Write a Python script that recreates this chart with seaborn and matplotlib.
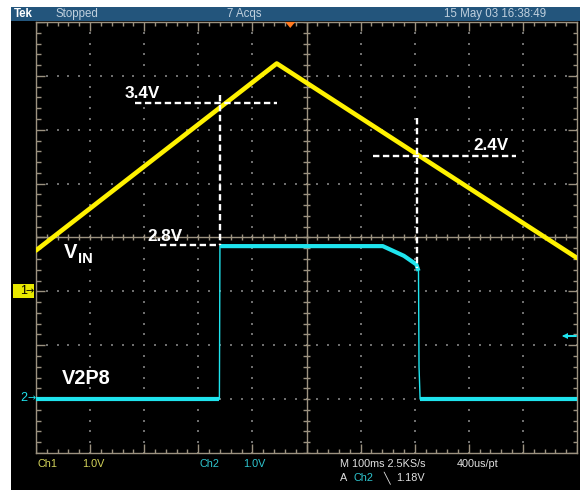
import numpy as np
import matplotlib
matplotlib.use("Agg")
import matplotlib.pyplot as plt
from matplotlib.patches import Rectangle, Polygon
import seaborn as sns

# ---------------- data (time in ms, voltage in V) ----------------
ch1_t = [0, 445, 1000]
ch1_v = [0.76, 4.23, 0.62]

ch2_t = [0, 339, 340, 641, 680, 703, 707, 708, 710, 1000]
ch2_v = [0.0, 0.0, 2.84, 2.84, 2.66, 2.50, 2.38, 0.60, 0.0, 0.0]

ch1_offset_div = -1.0   # ground marker "1"
ch2_offset_div = -3.0   # ground marker "2"
volts_per_div = 1.0

# annotation dashed lines (t0, t1, level) and labels
h_lines_ch1 = [(183, 445, 3.50), (623, 887, 2.51)]
h_lines_ch2 = [(229, 340, 2.86)]
v_lines = [(340, 2.64, -0.14), (704, 2.22, -0.57)]   # (t, div_top, div_bottom)
labels = ["3.4V", "2.8V", "2.4V"]
label_pos = [(142, 93), (165, 236), (491, 145)]       # pixel centres

header_texts = ["Tek", "Stopped", "7 Acqs", "15 May 03 16:38:49"]
footer_texts = ["Ch1", "1.0V", "Ch2", "1.0V", "M 100ms 2.5KS/s", "400us/pt"]
trigger_text = ["A", "Ch2", "\u2572", "1.18V"]
trigger_level = 1.18
trigger_pos_t = 470

# ---------------- style ----------------
sns.set_theme(style="dark")
plt.rcParams['font.family'] = ['Liberation Sans', 'DejaVu Sans']

W, H = 580, 490
fig = plt.figure(figsize=(W / 100, H / 100), dpi=100, facecolor="white")

def fx(x):
    return x / W

def fy(y):
    return 1 - y / H

# black screen and header bar
fig.patches.append(Rectangle((fx(11), 0), fx(569), 1 - 21 / H, transform=fig.transFigure,
                             facecolor="black", edgecolor="none", zorder=-10))
fig.patches.append(Rectangle((fx(11), fy(21)), fx(569), 14 / H, transform=fig.transFigure,
                             facecolor="#23557c", edgecolor="none", zorder=-10))

gx0, gx1, gy0, gy1 = 36, 577, 22, 453
ax = fig.add_axes([fx(gx0), fy(gy1), fx(gx1 - gx0), (gy1 - gy0) / H])
ax.set_zorder(1)
ax.set_facecolor("black")
ax.set_xlim(0, 1000)
ax.set_ylim(-4, 4)
ax.set_xticks([])
ax.set_yticks([])
grat = "#9c9280"
for s in ax.spines.values():
    s.set_color(grat)
    s.set_linewidth(1.0)
    s.set_visible(True)

px_x = 1000 / (gx1 - gx0)
px_y = 8 / (gy1 - gy0)

# dotted graticule
dot_x, dot_y = [], []
for k in range(1, 10):
    if k == 5:
        continue
    for j in range(0, 41):
        dot_x.append(k * 100)
        dot_y.append(-4 + j * 0.2)
for k in range(1, 8):
    if k == 4:
        continue
    for j in range(0, 51):
        dot_x.append(j * 20)
        dot_y.append(-4 + k)
ax.scatter(dot_x, dot_y, s=1.1, marker="s", color="#6e6e6e", linewidths=0, zorder=1)

# centre crosshair with minor ticks
ax.axhline(0, color=grat, lw=1.0, zorder=1)
ax.axvline(500, color=grat, lw=1.0, zorder=1)
mt = np.arange(0, 1001, 20)
ax.vlines(mt, -3 * px_y, 3 * px_y, color=grat, lw=1.0, zorder=1)
mv = np.arange(-4, 4.001, 0.2)
ax.hlines(mv, 500 - 3.5 * px_x, 500 + 3.5 * px_x, color=grat, lw=1.0, zorder=1)

# border ticks
for t in mt:
    L = 9 if (t % 100 == 0) else 4.5
    ax.vlines(t, -4, -4 + L * px_y, color=grat, lw=1.0, zorder=1)
    ax.vlines(t, 4 - L * px_y, 4, color=grat, lw=1.0, zorder=1)
for v in mv:
    L = 9 if abs(v - round(v)) < 1e-6 else 4.5
    ax.hlines(v, 0, L * px_x, color=grat, lw=1.0, zorder=1)
    ax.hlines(v, 1000 - L * px_x, 1000, color=grat, lw=1.0, zorder=1)

# ---------------- traces ----------------
yel = "#fff200"
cya = "#1fe4ee"
y1 = [v / volts_per_div + ch1_offset_div for v in ch1_v]
y2 = [v / volts_per_div + ch2_offset_div for v in ch2_v]

sns.lineplot(x=ch1_t, y=y1, ax=ax, color=yel, linewidth=3.3, sort=False,
             estimator=None, zorder=4)
sns.lineplot(x=ch2_t, y=y2, ax=ax, color=cya, linewidth=1.0, sort=False,
             estimator=None, zorder=3)
for a, b in [(0, 2), (2, 7), (8, 10)]:
    sns.lineplot(x=ch2_t[a:b], y=y2[a:b], ax=ax, color=cya, linewidth=3.0,
                 sort=False, estimator=None, zorder=3, solid_capstyle="butt")

# ---------------- annotations ----------------
dash_kw = dict(color="white", lw=1.7, dashes=(2.7, 1.5), zorder=6)
for t0, t1, lev in h_lines_ch1:
    ax.plot([t0, t1], [lev + ch1_offset_div] * 2, **dash_kw)
for t0, t1, lev in h_lines_ch2:
    ax.plot([t0, t1], [lev + ch2_offset_div] * 2, **dash_kw)
for t, d0, d1 in v_lines:
    ax.plot([t, t], [d0, d1], **dash_kw)

for lab, (px, py) in zip(labels, label_pos):
    fig.text(fx(px), fy(py), lab, color="white", fontsize=12.3, fontweight="bold",
             ha="center", va="center", zorder=20)

fig.text(fx(64), fy(252), "V", color="white", fontsize=14.5, fontweight="bold",
         ha="left", va="center", zorder=20)
fig.text(fx(78), fy(259), "IN", color="white", fontsize=10.5, fontweight="bold",
         ha="left", va="center", zorder=20)
fig.text(fx(62), fy(378), "V2P8", color="white", fontsize=14.3, fontweight="bold",
         ha="left", va="center", zorder=20)

# channel ground markers
fig.patches.append(Rectangle((fx(13), fy(298)), fx(21), 14 / H, transform=fig.transFigure,
                             facecolor="#e8e800", edgecolor="none", zorder=5))
fig.text(fx(20), fy(291), "1", color="black", fontsize=9, ha="left", va="center", zorder=20)
fig.text(fx(26), fy(291), "\u2192", color="black", fontsize=7, ha="left", va="center",
         family=["DejaVu Sans"], zorder=20)
fig.text(fx(20), fy(398), "2", color=cya, fontsize=9, ha="left", va="center", zorder=20)
fig.text(fx(27), fy(398), "\u2192", color=cya, fontsize=7, ha="left", va="center",
         family=["DejaVu Sans"], zorder=20)

# trigger level arrow (right) and trigger position marker (top)
trig_div = trigger_level / volts_per_div + ch2_offset_div
ax.plot([1000 - 13 * px_x, 1000 - 1 * px_x], [trig_div, trig_div], color=cya, lw=1.5,
        zorder=6)
ax.plot([1000 - 12 * px_x], [trig_div], marker="<", markersize=5, color=cya,
        markeredgewidth=0, zorder=6)
ax.add_patch(Polygon([[trigger_pos_t - 5 * px_x, 4], [trigger_pos_t + 5 * px_x, 4],
                      [trigger_pos_t, 4 - 6 * px_y]], closed=True, facecolor="#ff7a20",
                     edgecolor="none", zorder=7, clip_on=False))

# ---------------- header / footer text ----------------
hx = [14, 55, 227, 444]
hcol = ["white", "#c0d0de", "#c0d0de", "#c0d0de"]
for txt, x, c in zip(header_texts, hx, hcol):
    fig.text(fx(x), fy(14), txt, color=c, fontsize=8.3,
             fontweight="bold" if txt == "Tek" else "normal", ha="left", va="center",
             zorder=20)

fx_pos = [37, 82, 200, 243, 340, 457]
fcol = ["#d4d45a", "#d4d45a", "#2ec6d0", "#2ec6d0", "#e0e0e0", "#e0e0e0"]
for txt, x, c in zip(footer_texts, fx_pos, fcol):
    fig.text(fx(x), fy(464), txt, color=c, fontsize=7.8, ha="left", va="center", zorder=20)

tx_pos = [340, 353, 383, 396]
tcol = ["#e0e0e0", "#2ec6d0", "#e0e0e0", "#e0e0e0"]
for txt, x, c in zip(trigger_text, tx_pos, tcol):
    fig.text(fx(x), fy(478), txt, color=c, fontsize=7.8, ha="left", va="center",
             family=["Liberation Sans", "DejaVu Sans"], zorder=20)

fig.savefig("out.png", dpi=100, facecolor="white")
